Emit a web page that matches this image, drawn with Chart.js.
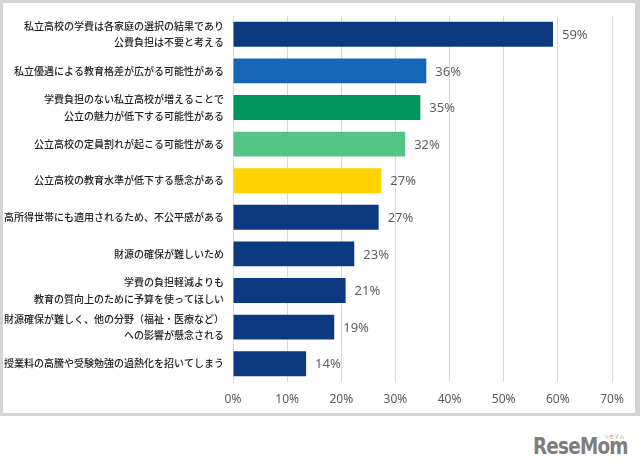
<!DOCTYPE html>
<html lang="ja">
<head>
<meta charset="utf-8">
<script src="https://cdn.jsdelivr.net/npm/chart.js@4/dist/chart.umd.min.js"></script>
<style>
  html, body { margin: 0; padding: 0; background: #fff; }
  body { width: 640px; height: 470px; position: relative; overflow: hidden; }
  #frame {
    position: absolute; left: 0; top: 0; width: 640px; height: 416px;
    box-sizing: border-box; border: 3px solid #d4d4d4; border-right-width: 5px; background: #fff;
  }
  #wrap { position: absolute; left: 0; top: 0; width: 632px; height: 410px; }
  #logo {
    position: absolute; left: 533px; top: 433px;
    font-family: "DejaVu Sans", sans-serif; font-weight: bold; font-size: 23px;
    letter-spacing: -1px; color: #7d7d7d;
    transform: scaleX(0.8); transform-origin: left top;
  }
  #logo-kana {
    position: absolute; left: 604px; top: 432px; font-size: 5px; color: #8a8a8a;
    font-family: "Noto Sans CJK JP", sans-serif;
  }
</style>
</head>
<body>
<div id="frame"><div id="wrap"><canvas id="chart" width="632" height="410"></canvas></div></div>
<div id="logo">ReseMom</div>
<div id="logo-kana">リセマム</div>
<script>
const categories = [
    ["私立高校の学費は各家庭の選択の結果であり", "公費負担は不要と考える"],
    "私立優遇による教育格差が広がる可能性がある",
    ["学費負担のない私立高校が増えることで", "公立の魅力が低下する可能性がある"],
    "公立高校の定員割れが起こる可能性がある",
    "公立高校の教育水準が低下する懸念がある",
    "高所得世帯にも適用されるため、不公平感がある",
    "財源の確保が難しいため",
    ["学費の負担軽減よりも", "教育の質向上のために予算を使ってほしい"],
    ["財源確保が難しく、他の分野（福祉・医療など）", "への影響が懸念される"],
    "授業料の高騰や受験勉強の過熱化を招いてしまう"
];
const values = [59.1, 35.7, 34.6, 31.8, 27.4, 26.9, 22.4, 20.8, 18.7, 13.5];
const valueLabels = ["59%", "36%", "35%", "32%", "27%", "27%", "23%", "21%", "19%", "14%"];
const barColors = ["#0c3a80", "#1566b6", "#00955a", "#55c586", "#ffd200",
                   "#0c3a80", "#0c3a80", "#0c3a80", "#0c3a80", "#0c3a80"];
const xTicks = [0, 10, 20, 30, 40, 50, 60, 70];

const valueLabelPlugin = {
    id: "valueLabels",
    afterDatasetsDraw(chart) {
        const ctx = chart.ctx;
        const meta = chart.getDatasetMeta(0);
        ctx.save();
        ctx.font = "13px 'Noto Sans', sans-serif";
        ctx.fillStyle = "#5f5f5f";
        ctx.textAlign = "left";
        ctx.textBaseline = "middle";
        meta.data.forEach((bar, i) => {
            ctx.fillText(valueLabels[i], bar.x + 9, bar.y + 1);
        });
        ctx.restore();
    }
};

new Chart(document.getElementById("chart"), {
    type: "bar",
    data: {
        labels: categories,
        datasets: [{
            data: values,
            backgroundColor: barColors,
            borderWidth: 0,
            barPercentage: 0.68,
            categoryPercentage: 1.0
        }]
    },
    options: {
        indexAxis: "y",
        responsive: false,
        animation: false,
        devicePixelRatio: 1,
        layout: { padding: { top: 13, right: 23, bottom: 3, left: 0 } },
        plugins: {
            legend: { display: false },
            tooltip: { enabled: false }
        },
        scales: {
            x: {
                min: 0,
                max: 70,
                afterBuildTicks: scale => { scale.ticks = xTicks.map(v => ({ value: v })); },
                afterFit: scale => { scale.height = 28; },
                grid: { color: "#d9d9d9", drawTicks: false },
                border: { display: false },
                ticks: {
                    padding: 10,
                    color: "#595959",
                    font: { family: "'Noto Sans', sans-serif", size: 12 },
                    callback: v => v + "%"
                }
            },
            y: {
                afterFit: scale => {
                    scale.width = 230;
                    scale.paddingTop = 0;
                    scale.paddingBottom = 0;
                },
                grid: { display: false, drawTicks: false },
                border: { display: true, color: "#d9d9d9" },
                ticks: {
                    padding: 9,
                    color: "#1e1e1e",
                    font: { family: "'Noto Sans CJK JP', sans-serif", size: 10, weight: 500, lineHeight: 1.65 }
                }
            }
        }
    },
    plugins: [valueLabelPlugin]
});
</script>
</body>
</html>
